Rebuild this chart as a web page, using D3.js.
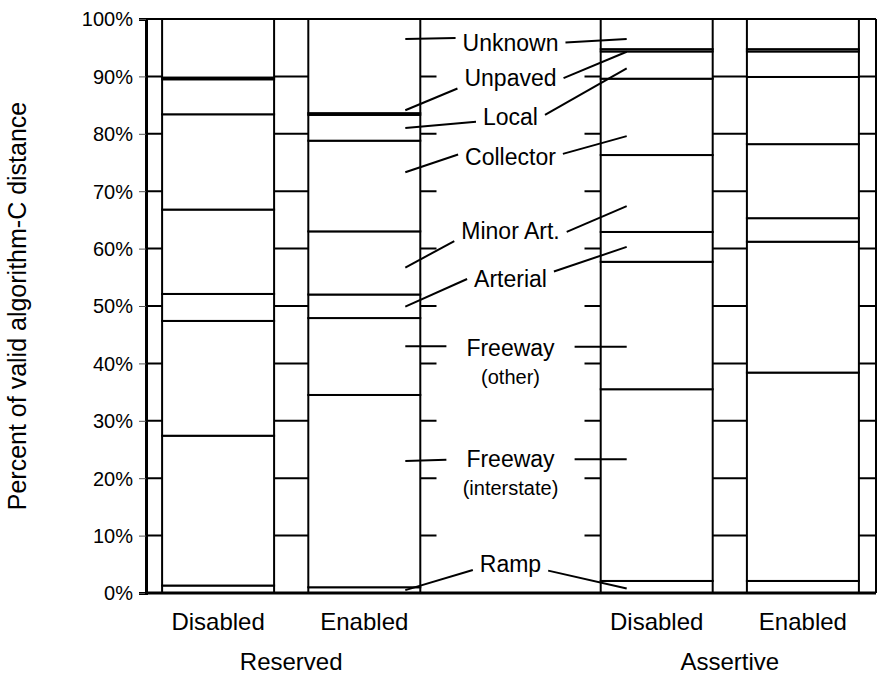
<!DOCTYPE html>
<html>
<head>
<meta charset="utf-8">
<script src="https://cdn.jsdelivr.net/npm/d3@7/dist/d3.min.js"></script>
<style>
  body { margin: 0; background: #fff; }
  text { font-family: "Liberation Sans", Arial, sans-serif; fill: #000; }
</style>
</head>
<body>
<div id="chart"></div>
<script>
// categories (the middle one is the blank label column)
var bars = ["R-Disabled", "R-Enabled", "labels", "A-Disabled", "A-Enabled"];
var barNames = ["Disabled", "Enabled", "", "Disabled", "Enabled"];
var groups = ["Reserved", "Assertive"];
var segments = ["Ramp", "FreewayInterstate", "FreewayOther", "Arterial", "MinorArt", "Collector", "Local", "Unpaved", "Unknown"];

// percent of distance, bottom to top, one array per bar
var reservedDisabled = [1.3, 26.1, 20.0, 4.7, 14.7, 16.6, 6.1, 0.3, 10.2];
var reservedEnabled  = [1.0, 33.5, 13.4, 4.1, 11.0, 15.8, 4.5, 0.3, 16.4];
var assertiveDisabled = [2.1, 33.4, 22.2, 5.2, 13.4, 13.3, 4.75, 0.4, 5.25];
var assertiveEnabled  = [2.1, 36.3, 22.8, 4.1, 12.9, 11.7, 4.45, 0.4, 5.25];

var yTicks = [0, 10, 20, 30, 40, 50, 60, 70, 80, 90, 100];

// labels in the middle column and where their leaders point (percent)
var labelText = ["Unknown", "Unpaved", "Local", "Collector", "Minor Art.", "Arterial", "Freeway", "Freeway", "Ramp"];
var labelSub  = ["", "", "", "", "", "", "(other)", "(interstate)", ""];
var labelBase = [94.5, 88.4, 81.5, 74.6, 61.6, 53.3, 41.3, 22.0, 3.6];
var leftFrom  = [96.5, 84.1, 81.0, 73.3, 56.7, 49.9, 43.0, 23.0, 0.5];
var leftTo    = [96.7, 87.9, 82.1, 76.4, 61.3, 54.7, 43.0, 23.2, 4.0];
var rightFrom = [95.9, 89.7, 83.3, 76.5, 62.9, 56.0, 42.9, 23.3, 3.9];
var rightTo   = [96.5, 94.3, 91.4, 79.6, 67.4, 60.3, 42.9, 23.3, 0.8];

function init(){
  var W = 883, H = 677;
  var svg = d3.select("#chart").append("svg")
      .attr("width", W)
      .attr("height", H);

  var x = d3.scaleBand()
    .domain(bars)
    .range([145, 876])
    .paddingInner(0.234)
    .paddingOuter(0.117);

  var y = d3.scaleLinear()
    .domain([0, 100])
    .range([593, 19]);

  // stack the bars
  var table = bars.map(function(b){
    var vals = {"R-Disabled": reservedDisabled, "R-Enabled": reservedEnabled,
                "A-Disabled": assertiveDisabled, "A-Enabled": assertiveEnabled}[b];
    var o = {bar: b};
    segments.forEach(function(s, i){ o[s] = vals ? vals[i] : 0; });
    return o;
  });
  var stacked = d3.stack().keys(segments)(table);

  // gridlines
  svg.append("g")
    .selectAll("line")
    .data(yTicks)
    .enter().append("line")
      .attr("x1", 145).attr("x2", 876)
      .attr("y1", function(d){ return y(d); })
      .attr("y2", function(d){ return y(d); })
      .attr("stroke", "#000")
      .attr("stroke-width", 2);

  // right frame edge
  svg.append("line")
    .attr("x1", 876).attr("x2", 876)
    .attr("y1", y(100)).attr("y2", y(0))
    .attr("stroke", "#000").attr("stroke-width", 2);

  // y axis
  var yAxis = svg.append("g")
    .attr("transform", "translate(146,0)")
    .call(d3.axisLeft(y).tickValues(yTicks).tickSize(7).tickPadding(6)
      .tickFormat(function(d){ return d + "%"; }));
  yAxis.select(".domain").attr("stroke", "#000").attr("stroke-width", 3);
  yAxis.selectAll(".tick line").attr("stroke", "#555").attr("stroke-width", 1);
  yAxis.selectAll("text").style("font-size", "20px").attr("dy", "0.34em");

  // stacked segments
  svg.append("g")
    .selectAll("g")
    .data(stacked)
    .enter().append("g")
    .selectAll("rect")
    .data(function(d){ return d.filter(function(v){ return v.data.bar !== "labels"; }); })
    .enter().append("rect")
      .attr("x", function(d){ return x(d.data.bar); })
      .attr("width", x.bandwidth())
      .attr("y", function(d){ return y(d[1]); })
      .attr("height", function(d){ return y(d[0]) - y(d[1]); })
      .attr("fill", "#fff")
      .attr("stroke", "#000")
      .attr("stroke-width", 2);

  // blank label column
  var mid = x("labels") + x.bandwidth() / 2;
  svg.append("rect")
    .attr("x", mid - 74).attr("width", 148)
    .attr("y", y(100) + 1.5).attr("height", y(0) - y(100) - 3)
    .attr("fill", "#fff");

  // bottom axis line
  svg.append("line")
    .attr("x1", 145).attr("x2", 876)
    .attr("y1", y(0)).attr("y2", y(0))
    .attr("stroke", "#000").attr("stroke-width", 3);

  // middle labels
  var lab = svg.append("g").selectAll("g")
    .data(labelText)
    .enter().append("g");

  lab.append("text")
    .attr("x", mid)
    .attr("y", function(d, i){ return y(labelBase[i]); })
    .attr("text-anchor", "middle")
    .style("font-size", "23px")
    .text(function(d){ return d; });

  lab.append("text")
    .attr("x", mid)
    .attr("y", function(d, i){ return y(labelBase[i]) + 28; })
    .attr("text-anchor", "middle")
    .style("font-size", "20px")
    .text(function(d, i){ return labelSub[i]; });

  // leaders from bar 2 to the label and from the label to bar 4
  var leftX = x("R-Enabled") + x.bandwidth() - 15;
  var rightX = x("A-Disabled") + 26;
  lab.each(function(d, i){
    var g = d3.select(this);
    var half = g.select("text").node().getComputedTextLength() / 2;
    var gap = labelSub[i] ? 20 : 7;
    g.append("line")
      .attr("x1", leftX).attr("y1", y(leftFrom[i]))
      .attr("x2", mid - half - gap).attr("y2", y(leftTo[i]))
      .attr("stroke", "#000").attr("stroke-width", 2);
    g.append("line")
      .attr("x1", mid + half + gap).attr("y1", y(rightFrom[i]))
      .attr("x2", rightX).attr("y2", y(rightTo[i]))
      .attr("stroke", "#000").attr("stroke-width", 2);
  });

  // category labels
  svg.append("g")
    .selectAll("text")
    .data(bars.filter(function(b){ return b !== "labels"; }))
    .enter().append("text")
      .attr("x", function(d){ return x(d) + x.bandwidth() / 2; })
      .attr("y", 630)
      .attr("text-anchor", "middle")
      .style("font-size", "24px")
      .text(function(d){ return barNames[bars.indexOf(d)]; });

  // group labels
  svg.append("g")
    .selectAll("text")
    .data(groups)
    .enter().append("text")
      .attr("x", function(d, i){
        var a = i === 0 ? "R-Disabled" : "A-Disabled";
        var b = i === 0 ? "R-Enabled" : "A-Enabled";
        return (x(a) + x(b) + x.bandwidth()) / 2;
      })
      .attr("y", 670)
      .attr("text-anchor", "middle")
      .style("font-size", "24px")
      .text(function(d){ return d; });

  // y title
  svg.append("text")
    .attr("transform", "rotate(-90)")
    .attr("x", -306)
    .attr("y", 26)
    .attr("text-anchor", "middle")
    .style("font-size", "25px")
    .text("Percent of valid algorithm-C distance");
}
window.onload = init;
</script>
</body>
</html>
